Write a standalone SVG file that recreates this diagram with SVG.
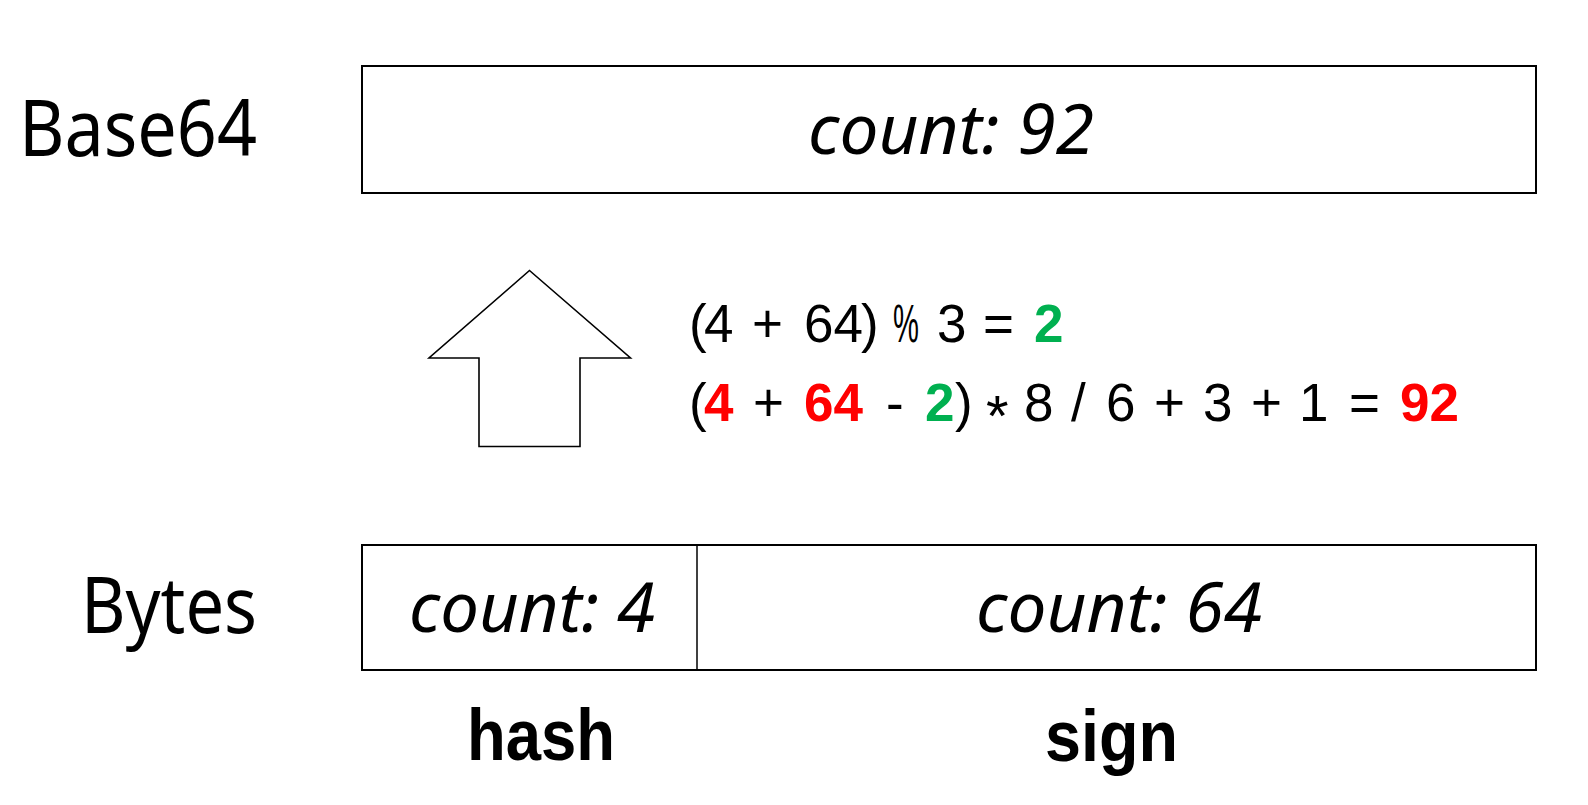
<svg xmlns="http://www.w3.org/2000/svg" width="1588" height="805" viewBox="0 0 1588 805">
<style>
.box{fill:#fff;stroke:#000;stroke-width:2}
.div{stroke:#000;stroke-width:1.5}
.lbl{font-family:"Noto Sans","Liberation Sans",sans-serif;font-size:79px;fill:#000}
.cnt{font-family:"Noto Sans","Liberation Sans",sans-serif;font-style:italic;font-size:70px;fill:#000;text-anchor:middle}
.f{font-family:"Liberation Sans",Arial,sans-serif;font-size:53px;fill:#000}
.r{fill:#FF0000;font-weight:bold}
.g{fill:#00B050;font-weight:bold}
.nm{font-family:"Liberation Sans",Arial,sans-serif;font-weight:bold;font-size:72px;fill:#000}
.arrow{fill:#fff;stroke:#000;stroke-width:1.6}
</style>
<rect width="1588" height="805" fill="#fff"/>
<g id="base64-label"><text class="lbl" x="19" y="156" textLength="238" lengthAdjust="spacingAndGlyphs">Base64</text></g>
<g id="base64-box">
<rect class="box" x="362" y="66" width="1174" height="127"/>
<text class="cnt" x="951" y="154" textLength="286" lengthAdjust="spacingAndGlyphs">count: 92</text>
</g>
<g id="bytes-label"><text class="lbl" x="81" y="633" textLength="176" lengthAdjust="spacingAndGlyphs">Bytes</text></g>
<g id="bytes-box">
<rect class="box" x="362" y="545" width="1174" height="125"/>
<line class="div" x1="697" y1="545" x2="697" y2="670"/>
<text class="cnt" x="532" y="632" textLength="246" lengthAdjust="spacingAndGlyphs">count: 4</text>
<text class="cnt" x="1119" y="632" textLength="286" lengthAdjust="spacingAndGlyphs">count: 64</text>
</g>
<g id="hash-label"><text class="nm" x="467" y="760" textLength="148" lengthAdjust="spacingAndGlyphs">hash</text></g>
<g id="sign-label"><text class="nm" x="1045" y="761" textLength="133" lengthAdjust="spacingAndGlyphs">sign</text></g>
<g id="connectors">
<polygon class="arrow" points="529.5,270.5 630.5,358 580,358 580,446.5 479,446.5 479,358 429,358"/>
</g>
<g id="formula">
<g class="f">
<text x="689" y="342">(</text>
<text x="704" y="342">4</text>
<text x="752" y="342">+</text>
<text x="804" y="342">64</text>
<text x="861" y="342">)</text>
<text transform="translate(893,342) scale(0.55,1)">%</text>
<text x="937" y="342">3</text>
<text x="983" y="342">=</text>
<text class="g" x="1034" y="342">2</text>
</g>
<g class="f">
<text x="689" y="421">(</text>
<text class="r" x="704" y="421">4</text>
<text x="753" y="421">+</text>
<text class="r" x="804" y="421">64</text>
<text x="886" y="421">-</text>
<text class="g" x="925" y="421">2</text>
<text x="955" y="421">)</text>
<text x="986" y="436" font-size="58">*</text>
<text x="1024" y="421">8</text>
<text x="1071" y="421">/</text>
<text x="1106" y="421">6</text>
<text x="1154" y="421">+</text>
<text x="1203" y="421">3</text>
<text x="1251" y="421">+</text>
<text x="1299" y="421">1</text>
<text x="1349" y="421">=</text>
<text class="r" x="1400" y="421">92</text>
</g>
</g>
</svg>
